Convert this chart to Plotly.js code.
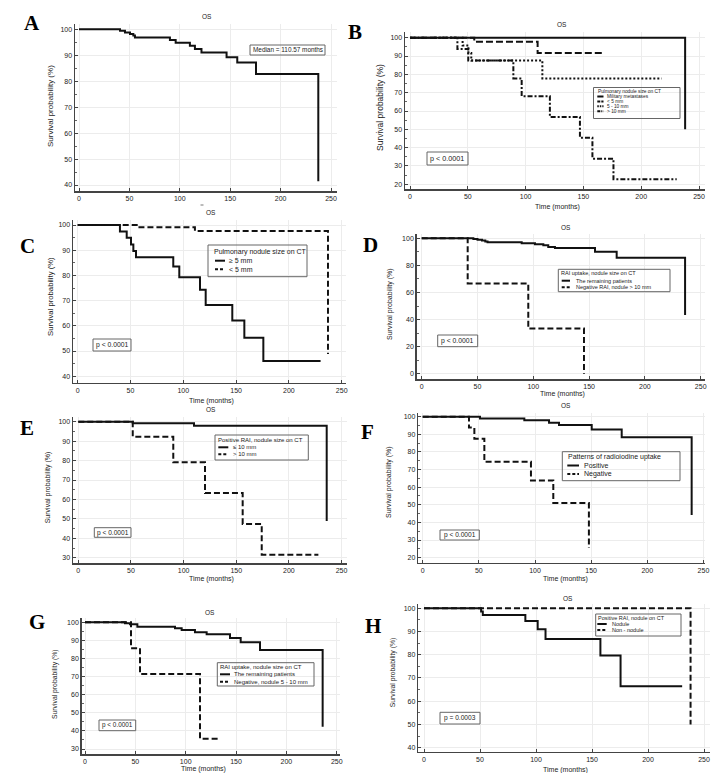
<!DOCTYPE html>
<html>
<head>
<meta charset="utf-8">
<script src="https://cdn.plot.ly/plotly-3.0.1.min.js"></script>
<style>
  html, body { margin: 0; padding: 0; background: #fff; }
  #chart { width: 715px; height: 773px; }
</style>
</head>
<body>
<div id="chart"></div>
<script>
// Kaplan-Meier overall survival (OS) curves: time in months vs survival probability (%)

const monthTicks = [0, 50, 100, 150, 200, 250];

// A - all patients
const aTime = [0, 40.7, 45.6, 50.6, 53.9, 55.5, 90.2, 95.9, 110, 115, 121.5, 146.4, 157, 175.6, 237.4];
const aSurv = [100, 99.4, 98.8, 98.2, 97.6, 96.8, 95.9, 94.8, 93.7, 92.4, 91.1, 89.2, 87.2, 82.8, 41.4];

// B - pulmonary nodule size on CT (four groups)
const bMiliaryTime = [0, 238];
const bMiliarySurv = [100, 50];
const bLt5Time = [0, 55.6, 110.4, 167];
const bLt5Surv = [100, 97.8, 91.7, 91.7];
const b5to10Time = [0, 45.5, 50.5, 53, 114.5, 217.7];
const b5to10Surv = [100, 95.8, 91.7, 87.5, 77.8, 77.8];
const bGt10Time = [0, 41, 50.4, 89.4, 96.6, 121, 147, 157.8, 176, 230.7];
const bGt10Surv = [100, 93.8, 87.5, 77.8, 68.1, 56.7, 45.4, 34, 22.7, 22.7];

// C - pulmonary nodule size on CT (two groups)
const cGe5Time = [0, 40, 46.4, 50.5, 52.7, 55.2, 90.5, 96.2, 115.8, 121.2, 146.4, 157.8, 175.8, 230];
const cGe5Surv = [100, 97.4, 94.9, 92.3, 89.7, 87.2, 83.5, 79.3, 74.3, 68.3, 62.1, 55.3, 46, 46];
const cLt5Time = [0, 57, 111, 237];
const cLt5Surv = [100, 99.1, 97.6, 48.8];

// D - RAI uptake and nodule size
const dRestTime = [0, 46.3, 50, 54, 57, 59, 89.6, 101.5, 109, 113.4, 119.4, 155.3, 174.7, 236];
const dRestSurv = [100, 99.5, 99, 98.4, 97.7, 97, 96.3, 95.6, 94.8, 93.6, 92.8, 90.1, 85.7, 43.4];
const dNegTime = [0, 41.2, 95.5, 145.4];
const dNegSurv = [100, 66.7, 33.3, 0];

// E - positive RAI, nodule size
const eLe10Time = [0, 51.7, 109.9, 235.9];
const eLe10Surv = [100, 99.2, 97.9, 48.9];
const eGt10Time = [0, 51.7, 90.2, 120.3, 156.1, 174.2, 228];
const eGt10Surv = [100, 92.3, 79.1, 63.3, 47.4, 31.6, 31.6];

// F - patterns of radioiodine uptake
const fPosTime = [0, 51, 90.5, 112.5, 121.4, 150.5, 177.2, 239.5];
const fPosSurv = [100, 99, 98, 96.6, 95.3, 92.8, 88.3, 44.2];
const fNegTime = [0, 41.2, 46, 54.9, 96.4, 116.3, 148];
const fNegSurv = [100, 93.8, 87.5, 74.4, 63.8, 51, 25.5];

// G - RAI uptake, nodule 5-10 mm
const gRestTime = [0, 39.7, 44.7, 52, 89.4, 96, 109.2, 120.8, 144, 154.6, 173.8, 236];
const gRestSurv = [100, 99.5, 98.9, 97.6, 96.7, 95.7, 94.5, 93.4, 91.3, 89, 84.7, 42.3];
const gNegTime = [0, 45.7, 54.6, 114.2, 132.4];
const gNegSurv = [100, 85.7, 71.4, 35.7, 35.7];

// H - positive RAI, nodule vs non-nodule
const hNodTime = [0, 51, 52.5, 90.5, 101.5, 108.5, 157.5, 175.5, 230.5];
const hNodSurv = [100, 98.6, 97.1, 94.5, 91, 86.8, 79.7, 66.4, 66.4];
const hNonTime = [0, 238];
const hNonSurv = [100, 50];

// ---- drawing ----
const W = 715, H = 773;
const px = x => x / W;
const py = y => 1 - y / H;

const INK = '#111';
const SOLID = 'solid', DASH = '6px,3px', DOT = '2px,2px', DASHDOT = '5px,2px,2px,2px';
const SANS = 'Liberation Sans, Arial, sans-serif';
const SERIF = 'Liberation Serif, Times New Roman, serif';

// frame geometry of each panel in page pixels: x of month 0, px per month,
// y of 100 %, px per %, and the axis box
const frames = [
  {x0: 79,    sx: 1.008, y100: 29.3,  sy: 2.595, left: 75,    right: 337, top: 24,  bottom: 191,   dtick: 10},
  {x0: 410,   sx: 1.156, y100: 37.7,  sy: 1.8325, left: 405,  right: 705, top: 32,  bottom: 189,   dtick: 10},
  {x0: 77.7,  sx: 1.056, y100: 225,   sy: 2.52,  left: 73,    right: 346, top: 220, bottom: 382.7, dtick: 10},
  {x0: 421.7, sx: 1.116, y100: 238.3, sy: 1.354, left: 416.7, right: 705, top: 234, bottom: 379.3, dtick: 20},
  {x0: 78.3,  sx: 1.053, y100: 421.7, sy: 1.944, left: 73,    right: 347, top: 417, bottom: 563.3, dtick: 10},
  {x0: 422.7, sx: 1.123, y100: 416.7, sy: 1.762, left: 418.3, right: 705, top: 413, bottom: 562.7, dtick: 10},
  {x0: 85,    sx: 1.007, y100: 622.3, sy: 1.81,  left: 81.7,  right: 340, top: 618, bottom: 754,   dtick: 10},
  {x0: 424,   sx: 1.12,  y100: 608.3, sy: 2.322, left: 418.3, right: 710, top: 604, bottom: 751.7, dtick: 10}
];

const series = [
  [{t: aTime, s: aSurv, dash: SOLID}],
  [{t: bMiliaryTime, s: bMiliarySurv, dash: SOLID},
   {t: bLt5Time, s: bLt5Surv, dash: '7px,3px'},
   {t: b5to10Time, s: b5to10Surv, dash: DOT},
   {t: bGt10Time, s: bGt10Surv, dash: DASHDOT}],
  [{t: cGe5Time, s: cGe5Surv, dash: SOLID}, {t: cLt5Time, s: cLt5Surv, dash: DASH}],
  [{t: dRestTime, s: dRestSurv, dash: SOLID}, {t: dNegTime, s: dNegSurv, dash: DASH}],
  [{t: eLe10Time, s: eLe10Surv, dash: SOLID}, {t: eGt10Time, s: eGt10Surv, dash: DASH}],
  [{t: fPosTime, s: fPosSurv, dash: SOLID}, {t: fNegTime, s: fNegSurv, dash: DASH}],
  [{t: gRestTime, s: gRestSurv, dash: SOLID}, {t: gNegTime, s: gNegSurv, dash: DASH}],
  [{t: hNodTime, s: hNodSurv, dash: SOLID}, {t: hNonTime, s: hNonSurv, dash: DASH}]
];

const data = [];
const layout = {
  width: W, height: H,
  margin: {l: 0, r: 0, t: 0, b: 0},
  paper_bgcolor: '#fff', plot_bgcolor: '#fff',
  showlegend: false,
  annotations: [], shapes: []
};

frames.forEach((f, i) => {
  const n = i === 0 ? '' : String(i + 1);
  layout['xaxis' + n] = {
    domain: [px(f.left), px(f.right)],
    range: [(f.left - f.x0) / f.sx, (f.right - f.x0) / f.sx],
    anchor: 'y' + n,
    tickmode: 'array', tickvals: monthTicks,
    ticks: 'inside', ticklen: 3, tickwidth: 1, tickcolor: '#444',
    showline: true, linecolor: '#444', linewidth: 1.5,
    showgrid: true, gridcolor: '#ececec', gridwidth: 1,
    zeroline: false, fixedrange: true,
    tickfont: {family: SANS, size: 7, color: '#222'}
  };
  layout['yaxis' + n] = {
    domain: [py(f.bottom), py(f.top)],
    range: [100 - (f.bottom - f.y100) / f.sy, 100 + (f.y100 - f.top) / f.sy],
    anchor: 'x' + n,
    tick0: 0, dtick: f.dtick,
    ticks: 'inside', ticklen: 3, tickwidth: 1, tickcolor: '#444',
    minor: {ticks: 'inside', ticklen: 2, dtick: f.dtick / 2, tickcolor: '#666', showgrid: false},
    showline: true, linecolor: '#444', linewidth: 1.5,
    showgrid: true, gridcolor: '#ececec', gridwidth: 1,
    zeroline: false, fixedrange: true,
    tickfont: {family: SANS, size: 7, color: '#222'}
  };
  series[i].forEach(sr => {
    data.push({
      type: 'scatter', mode: 'lines',
      x: sr.t, y: sr.s,
      xaxis: 'x' + n, yaxis: 'y' + n,
      line: {shape: 'hv', color: INK, width: 2, dash: sr.dash},
      hoverinfo: 'skip'
    });
  });
});

// text helper in page pixels
function label(text, x, y, size, opts) {
  layout.annotations.push(Object.assign({
    text: text, x: px(x), y: py(y), xref: 'paper', yref: 'paper',
    xanchor: 'center', yanchor: 'middle', showarrow: false,
    font: {family: SANS, size: size, color: '#222'}
  }, opts || {}));
}
function box(x0, y0, x1, y1) {
  layout.shapes.push({type: 'rect', xref: 'paper', yref: 'paper',
    x0: px(x0), x1: px(x1), y0: py(y1), y1: py(y0),
    line: {color: '#666', width: 1}, fillcolor: 'rgba(255,255,255,0)'});
}
function sample(x0, x1, y, dash) {
  layout.shapes.push({type: 'line', xref: 'paper', yref: 'paper',
    x0: px(x0), x1: px(x1), y0: py(y), y1: py(y),
    line: {color: INK, width: 2, dash: dash}});
}
function legendBlock(b, title, items) {
  box(b.x0, b.y0, b.x1, b.y1);
  label(title, b.tx, b.ty, b.size, {xanchor: 'left', borderpad: 0});
  items.forEach((it, k) => {
    const y = b.iy + k * b.gap;
    sample(b.lx0, b.lx1, y, it.dash);
    label(it.text, b.ix, y, b.size, {xanchor: 'left', borderpad: 0});
  });
}

// panel letters
[['A', 32, 23], ['B', 355, 32], ['C', 27, 246], ['D', 370, 245],
 ['E', 27, 428], ['F', 368, 432], ['G', 37, 622], ['H', 373, 626]].forEach(p =>
  label('<b>' + p[0] + '</b>', p[1], p[2], 21, {font: {family: SERIF, size: 21, color: '#000'}}));

// panel titles
[[207, 16], [562, 25], [211, 212], [566, 228], [211, 410], [566, 405], [210, 612], [568, 598]]
  .forEach(p => label('OS', p[0], p[1], 6.5));

// small stray tick above the OS title of panel C
layout.shapes.push({type: 'line', xref: 'paper', yref: 'paper',
  x0: px(200.5), x1: px(203.5), y0: py(205), y1: py(205), line: {color: '#777', width: 1}});

// axis titles
[[50, 106, 8], [380, 108, 8.5], [50, 297, 7.7], [390, 304, 7], [48.3, 487, 7], [389, 482, 7], [55, 684, 6.8], [393.3, 672, 6.8]]
  .forEach(p => label('Survival probability (%)', p[0], p[1], p[2], {textangle: -90}));
[[557, 207], [211.7, 400.7], [562, 394], [211, 579], [565.7, 579.3], [204, 769], [565.7, 770]]
  .forEach(p => label('Time (months)', p[0], p[1], 7));

// median and p-value boxes
box(250, 45, 325, 55);
label('Median = 110.57 months', 287.5, 50, 6.4);
[[427, 152, 468, 165, 'p &lt; 0.0001', 7.2],
 [93, 339, 131, 351, 'p &lt; 0.0001', 6.8],
 [437.7, 335, 477.7, 346.7, 'p &lt; 0.0001', 6.8],
 [94.3, 527.7, 131, 537.3, 'p &lt; 0.0001', 6.6],
 [440, 530, 479.3, 540, 'p &lt; 0.0001', 6.6],
 [99, 720, 135.7, 730.7, 'p &lt; 0.0001', 6.4],
 [440, 712.3, 480, 724, 'p = 0.0003', 6.6]].forEach(p => {
  box(p[0], p[1], p[2], p[3]);
  label(p[4], (p[0] + p[2]) / 2, (p[1] + p[3]) / 2, p[5]);
});

// legends
legendBlock({x0: 593.5, y0: 87.5, x1: 680, y1: 118.5, tx: 596.7, ty: 91.5, size: 4.8,
             iy: 96.5, gap: 4.9, lx0: 597.3, lx1: 603.5, ix: 606},
  'Pulmonary nodule size on CT',
  [{text: 'Military metastases', dash: SOLID}, {text: '&lt; 5 mm', dash: '3px,1px'},
   {text: '5 - 10 mm', dash: '1.5px,1px'}, {text: '&gt; 10 mm', dash: '3px,1px,1px,1px'}]);
legendBlock({x0: 208, y0: 245, x1: 307, y1: 276.7, tx: 213.3, ty: 251.7, size: 7,
             iy: 260.7, gap: 8.6, lx0: 215, lx1: 225, ix: 228.3},
  'Pulmonary nodule size on CT',
  [{text: '≥ 5 mm', dash: SOLID}, {text: '&lt; 5 mm', dash: '3px,2px'}]);
legendBlock({x0: 558.3, y0: 269.3, x1: 670, y1: 291.7, tx: 560, ty: 273.3, size: 5.5,
             iy: 280.7, gap: 6.6, lx0: 561.7, lx1: 570, ix: 575},
  'RAI uptake, nodule size on CT',
  [{text: 'The remaining patients', dash: SOLID}, {text: 'Negative RAI, nodule &gt; 10 mm', dash: '3px,2px'}]);
legendBlock({x0: 215, y0: 435, x1: 308.3, y1: 460, tx: 217.3, ty: 440, size: 6,
             iy: 447.3, gap: 7, lx0: 218.3, lx1: 228.3, ix: 231.7},
  'Positive RAI, nodule size on CT',
  [{text: '≤ 10 mm', dash: SOLID}, {text: '&gt; 10 mm', dash: '3px,2px'}]);
legendBlock({x0: 562.3, y0: 451.7, x1: 680, y1: 480.7, tx: 567.3, ty: 457, size: 7,
             iy: 465.5, gap: 8.6, lx0: 567.3, lx1: 579, ix: 583.3},
  'Patterns of radioiodine uptake',
  [{text: 'Positive', dash: SOLID}, {text: 'Negative', dash: '3px,2px'}]);
legendBlock({x0: 217.3, y0: 662.7, x1: 314, y1: 686, tx: 219, ty: 666.7, size: 6,
             iy: 674.3, gap: 7.4, lx0: 220, lx1: 230, ix: 233.3},
  'RAI uptake, nodule size on CT',
  [{text: 'The remaining patients', dash: SOLID}, {text: 'Negative, nodule 5 - 10 mm', dash: '3px,2px'}]);
legendBlock({x0: 595.7, y0: 614, x1: 681, y1: 636, tx: 597.3, ty: 617.7, size: 5.5,
             iy: 624, gap: 6, lx0: 597.3, lx1: 606.7, ix: 611},
  'Positive RAI, nodule on CT',
  [{text: 'Nodule', dash: SOLID}, {text: 'Non - nodule', dash: '3px,2px'}]);

Plotly.newPlot('chart', data, layout, {displayModeBar: false, staticPlot: true});
</script>
</body>
</html>
